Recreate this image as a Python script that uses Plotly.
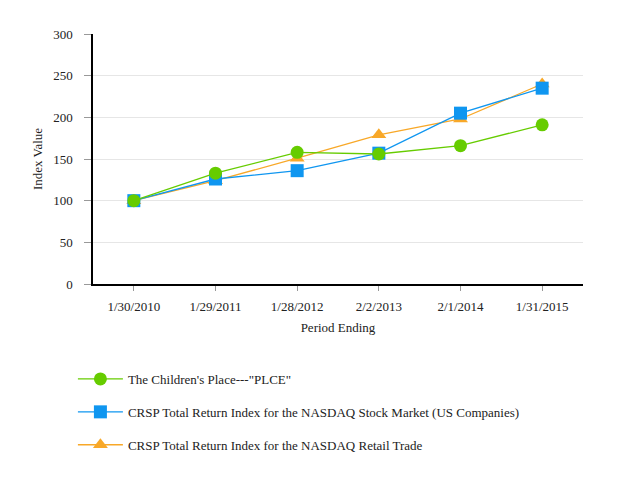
import plotly.graph_objects as go

periods = ["1/30/2010", "1/29/2011", "1/28/2012", "2/2/2013", "2/1/2014", "1/31/2015"]
plce = [100, 133, 158, 156, 166, 191]
nasdaq = [100, 126, 136, 157, 205, 235]
retail = [100, 124, 151, 179, 198, 240]

names = [
    "The Children's Place---\"PLCE\"",
    "CRSP Total Return Index for the NASDAQ Stock Market (US Companies)",
    "CRSP Total Return Index for the NASDAQ Retail Trade",
]
colors = ["#66cc00", "#0f96f0", "#f8a828"]
symbols = ["circle", "square", "triangle-up"]
sizes = [13, 13, 13]
series = [plce, nasdaq, retail]

fig = go.Figure()
order = [2, 1, 0]  # draw order: retail at back, PLCE on top
for i in order:
    fig.add_trace(go.Scatter(
        x=periods, y=series[i], name=names[i], mode="lines+markers",
        line=dict(color=colors[i], width=1.3),
        marker=dict(symbol=symbols[i], size=sizes[i], color=colors[i]),
        legendgroup=str(i), legendrank=i + 1,
    ))

font = "Liberation Serif"
tf = dict(family=font, size=13, color="#222")
fig.update_layout(
    width=601, height=464,
    margin=dict(l=85, r=26, t=26, b=188),
    paper_bgcolor="white", plot_bgcolor="white",
    font=tf,
    showlegend=True,
    legend=dict(
        orientation="v", x=-0.041, xanchor="left", y=-0.32, yanchor="top",
        tracegroupgap=13, itemwidth=45, font=tf,
        traceorder="grouped",
    ),
    xaxis=dict(
        type="category", range=[-0.5, 5.5],
        showline=True, linecolor="black", linewidth=1.5,
        ticks="outside", ticklen=5, tickcolor="#999",
        ticklabelstandoff=5,
        showgrid=False, zeroline=False,
        title=dict(text="Period Ending", standoff=10, font=tf),
        tickfont=tf,
    ),
    yaxis=dict(
        range=[0, 300], dtick=50,
        showline=True, linecolor="black", linewidth=1.5,
        ticks="outside", ticklen=7, tickcolor="#999",
        ticklabelstandoff=9,
        showgrid=True, gridcolor="#e6e6e6", zeroline=False,
        title=dict(text="Index Value", standoff=8, font=tf),
        tickfont=tf,
    ),
)

fig.write_html("out.html")
